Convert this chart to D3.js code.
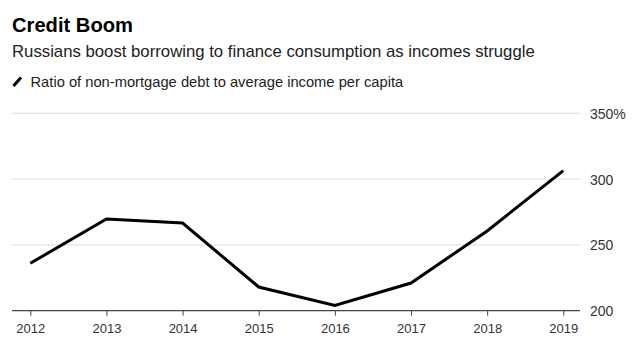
<!DOCTYPE html>
<html>
<head>
<meta charset="utf-8">
<script src="https://cdn.jsdelivr.net/npm/d3@7"></script>
<style>
  html, body { margin: 0; padding: 0; background: #fff; }
  svg { display: block; font-family: "Liberation Sans", Arial, Helvetica, sans-serif; }
</style>
</head>
<body>
<svg id="chart" width="633" height="357"></svg>
<script>
const years = [2012, 2013, 2014, 2015, 2016, 2017, 2018, 2019];
const debtRatio = [236, 269.7, 266.6, 218, 204, 221, 260.6, 306.4];
const yTicks = [200, 250, 300, 350];
const yTickLabels = ["200", "250", "300", "350%"];
const title = "Credit Boom";
const subtitle = "Russians boost borrowing to finance consumption as incomes struggle";
const legendLabel = "Ratio of non-mortgage debt to average income per capita";

const svg = d3.select("#chart");

const x = d3.scaleLinear().domain([2012, 2019]).range([30.3, 563.3]);
const y = d3.scaleLinear().domain([200, 350]).range([310.7, 113.3]);
const plotLeft = 12, plotRight = 580;

function fitText(sel, targetWidth) {
  const node = sel.node();
  const w = node.getComputedTextLength();
  const fs = parseFloat(sel.attr("font-size"));
  if (w > 0) sel.attr("font-size", fs * targetWidth / w);
}

// Header
const t = svg.append("text").attr("x", 12).attr("y", 32.3)
  .attr("font-size", 19).attr("font-weight", "bold").attr("fill", "#000").text(title);
fitText(t, 121);
const st = svg.append("text").attr("x", 12).attr("y", 57.3)
  .attr("font-size", 16).attr("fill", "#222").text(subtitle);
fitText(st, 523);

// Legend
svg.append("line").attr("x1", 13.5).attr("y1", 86).attr("x2", 21).attr("y2", 77.5)
  .attr("stroke", "#000").attr("stroke-width", 3).attr("stroke-linecap", "butt");
const lt = svg.append("text").attr("x", 30.5).attr("y", 86.7)
  .attr("font-size", 14).attr("fill", "#222").text(legendLabel);
fitText(lt, 373);

// Gridlines
svg.append("g").selectAll("line").data(yTicks.filter(d => d !== 200)).join("line")
  .attr("x1", plotLeft).attr("x2", plotRight)
  .attr("y1", d => y(d)).attr("y2", d => y(d))
  .attr("stroke", "#dcdcdc").attr("stroke-width", 1);

// Y axis labels (right)
const yAxis = d3.axisRight(y).tickValues(yTicks)
  .tickFormat((d, i) => yTickLabels[i]).tickSize(0).tickPadding(0);
const yg = svg.append("g").attr("transform", `translate(590,0)`).call(yAxis);
yg.select(".domain").remove();
yg.selectAll("text").attr("font-size", 14).attr("fill", "#333")
  .attr("font-family", "\"Liberation Sans\", Arial, sans-serif").attr("dy", "0.35em");

// X axis
const xAxis = d3.axisBottom(x).tickValues(years).tickFormat(d3.format("d"))
  .tickSize(5).tickSizeOuter(0).tickPadding(8);
const xg = svg.append("g").attr("transform", `translate(0,${y(200)})`).call(xAxis);
xg.select(".domain").attr("d", `M${plotLeft},0H${plotRight}`).attr("stroke", "#444").attr("stroke-width", 1.2);
xg.selectAll(".tick line").attr("stroke", "#444");
xg.selectAll("text").attr("font-size", 13).attr("fill", "#333")
  .attr("font-family", "\"Liberation Sans\", Arial, sans-serif");

// Line
const line = d3.line().x((d, i) => x(years[i])).y(d => y(d));
svg.append("path").datum(debtRatio).attr("d", line)
  .attr("fill", "none").attr("stroke", "#000").attr("stroke-width", 3)
  .attr("stroke-linejoin", "miter").attr("stroke-linecap", "butt");
</script>
</body>
</html>
